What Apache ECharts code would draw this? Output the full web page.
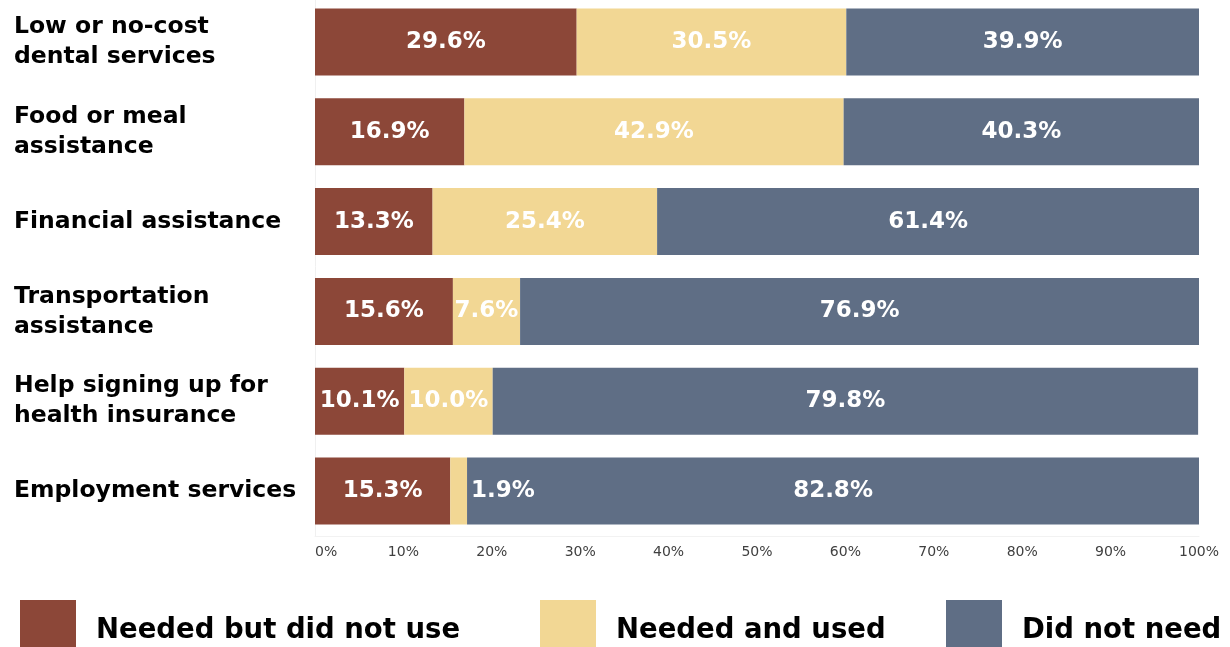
<!DOCTYPE html>
<html>
<head>
<meta charset="utf-8">
<style>
  html, body { margin: 0; padding: 0; background: #ffffff; overflow: hidden; }
  #chart { position: relative; top: -3px; width: 1230px; height: 650px; }
</style>
<script src="https://cdn.jsdelivr.net/npm/echarts@6/dist/echarts.min.js"></script>
</head>
<body>
<div id="chart"></div>
<script>
// Service categories, top to bottom
const categories = [
  'Low or no-cost\ndental services',
  'Food or meal\nassistance',
  'Financial assistance',
  'Transportation\nassistance',
  'Help signing up for\nhealth insurance',
  'Employment services'
];

// Share of respondents (%) per category
const neededNotUsed = [29.6, 16.9, 13.3, 15.6, 10.1, 15.3];
const neededUsed    = [30.5, 42.9, 25.4, 7.6, 10.0, 1.9];
const didNotNeed    = [39.9, 40.3, 61.4, 76.9, 79.8, 82.8];

const seriesNames = ['Needed but did not use', 'Needed and used', 'Did not need'];
const colors = ['#8C4738', '#F2D794', '#5F6E85'];

const FONT = '"DejaVu Sans", "Noto Sans", sans-serif';

const chart = echarts.init(document.getElementById('chart'), null, { renderer: 'canvas' });

// Segments too narrow for their label get it placed just to the right
function toItems(values) {
  return values.map(v => v < 3
    ? { value: v, label: { position: 'right', distance: 4 } }
    : { value: v });
}

function barSeries(name, data, color) {
  return {
    name: name,
    type: 'bar',
    stack: 'total',
    data: toItems(data),
    barWidth: 67,
    itemStyle: { color: color },
    label: {
      show: true,
      position: 'inside',
      color: '#ffffff',
      fontFamily: FONT,
      fontWeight: 'bold',
      fontSize: 23,
      formatter: p => p.value.toFixed(1) + '%'
    },
    emphasis: { disabled: true }
  };
}

function legendAt(left, name) {
  return {
    left: left,
    top: 598,
    orient: 'horizontal',
    data: [name],
    icon: 'rect',
    itemWidth: 56,
    itemHeight: 52,
    selectedMode: false,
    formatter: n => '{t|' + n + '}',
    textStyle: {
      padding: [0, 0, 0, 15],
      rich: {
        t: {
          fontFamily: FONT,
          fontWeight: 'bold',
          fontSize: 27.5,
          color: '#000000',
          padding: [10, 0, 0, 0]
        }
      }
    }
  };
}

chart.setOption({
  animation: false,
  backgroundColor: '#ffffff',
  color: colors,
  grid: { left: 315, right: 31, top: 0, height: 539, containLabel: false },
  xAxis: {
    type: 'value',
    min: 0,
    max: 100,
    interval: 10,
    axisLine: { show: true, lineStyle: { color: '#f2f2f2' } },
    axisTick: { show: false },
    splitLine: { show: false },
    axisLabel: {
      formatter: '{value}%',
      fontFamily: FONT,
      fontSize: 14,
      color: '#404040',
      margin: 9,
      alignMinLabel: 'left'
    }
  },
  yAxis: {
    type: 'category',
    inverse: true,
    data: categories,
    axisLine: { show: true, lineStyle: { color: '#f0f0f0' } },
    axisTick: { show: false },
    axisLabel: {
      align: 'left',
      margin: 301,
      fontFamily: FONT,
      fontWeight: 'bold',
      fontSize: 23.5,
      lineHeight: 30,
      color: '#000000'
    }
  },
  legend: [
    legendAt(15, seriesNames[0]),
    legendAt(535, seriesNames[1]),
    legendAt(941, seriesNames[2])
  ],
  series: [
    barSeries(seriesNames[0], neededNotUsed, colors[0]),
    barSeries(seriesNames[1], neededUsed, colors[1]),
    barSeries(seriesNames[2], didNotNeed, colors[2])
  ]
});
</script>
</body>
</html>
